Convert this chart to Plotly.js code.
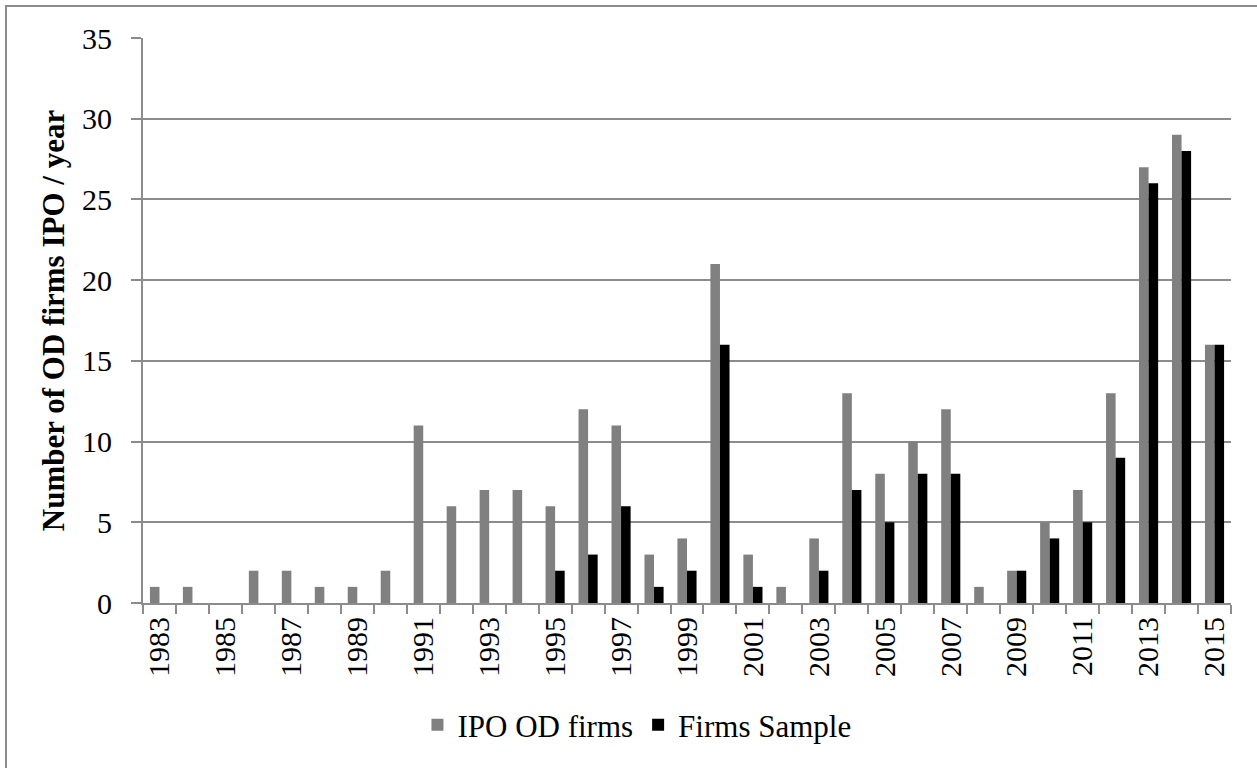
<!DOCTYPE html>
<html>
<head>
<meta charset="utf-8">
<script src="https://cdn.plot.ly/plotly-3.0.1.min.js"></script>
<style>
  html, body { margin: 0; padding: 0; background: #fff; overflow: hidden; }
  #frame { position: absolute; left: 5px; top: 5px; width: 1270px; height: 790px; border: 2px solid #8c8c8c; box-sizing: border-box; pointer-events: none; }
  #chart { position: absolute; left: 0; top: 0; width: 1257px; height: 768px; }
</style>
</head>
<body>
<div id="chart"></div>
<div id="frame"></div>
<script>
const years = [1983,1984,1985,1986,1987,1988,1989,1990,1991,1992,1993,1994,1995,1996,1997,1998,1999,2000,2001,2002,2003,2004,2005,2006,2007,2008,2009,2010,2011,2012,2013,2014,2015];
const ipoOdFirms = [1,1,0,2,2,1,1,2,11,6,7,7,6,12,11,3,4,21,3,1,4,13,8,10,12,1,2,5,7,13,27,29,16];
const firmsSample = [0,0,0,0,0,0,0,0,0,0,0,0,2,3,6,1,2,16,1,0,2,7,5,8,8,0,2,4,5,9,26,28,16];
const tickYears = [1983,1985,1987,1989,1991,1993,1995,1997,1999,2001,2003,2005,2007,2009,2011,2013,2015];
const tickLabels = tickYears.map(String);
const seriesNames = ["IPO OD firms", "Firms Sample"];

const boundaries = years.map(y => y - 0.5).concat([years[years.length - 1] + 0.5]);

const font = "Liberation Serif, Times New Roman, serif";
const gridColor = "#8c8c8c";

const traces = [
  { type: "bar", x: years, y: ipoOdFirms, name: seriesNames[0], marker: { color: "#808080" }, hoverinfo: "x+y" },
  { type: "bar", x: years, y: firmsSample, name: seriesNames[1], marker: { color: "#000000" }, hoverinfo: "x+y" }
];

const layout = {
  width: 1257, height: 768,
  margin: { l: 143, r: 26, t: 38, b: 165 },
  paper_bgcolor: "rgba(0,0,0,0)", plot_bgcolor: "#fff",
  font: { family: font, size: 30, color: "#000" },
  barmode: "group", bargap: 0.42, bargroupgap: 0,
  showlegend: true,
  legend: { orientation: "h", x: 0.454, xanchor: "center", y: -0.216, yanchor: "middle", font: { family: font, size: 31, color: "#000" }, itemwidth: 30, traceorder: "normal" },
  xaxis: {
    type: "linear",
    range: [years[0] - 0.5, years[years.length - 1] + 0.5],
    tickmode: "array", tickvals: tickYears, ticktext: tickLabels,
    tickangle: -90, ticks: "", showgrid: false, zeroline: false,
    showline: true, linecolor: gridColor, linewidth: 2,
    tickfont: { family: font, size: 30, color: "#000" },
    minor: { tickmode: "array", tickvals: boundaries, ticks: "outside", ticklen: 9, tickwidth: 2, tickcolor: gridColor, showgrid: false }
  },
  yaxis: {
    range: [0, 35], dtick: 5, tick0: 0,
    showgrid: true, gridcolor: gridColor, gridwidth: 2,
    zeroline: false, showline: true, linecolor: gridColor, linewidth: 2,
    ticks: "outside", ticklen: 10, tickwidth: 2, tickcolor: gridColor,
    ticklabelstandoff: 13,
    tickfont: { family: font, size: 30, color: "#000" },
    title: { text: "<b>Number of OD firms IPO / year</b>", font: { family: font, size: 31, color: "#000" }, standoff: 8 }
  }
};

Plotly.newPlot("chart", traces, layout, { displayModeBar: false, staticPlot: true });
</script>
</body>
</html>
